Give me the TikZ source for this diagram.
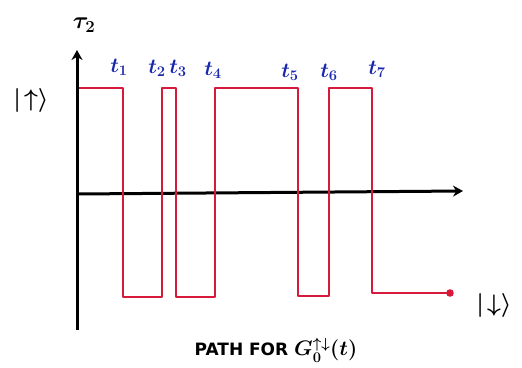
\RequirePackage{fix-cm}
\documentclass[tikz,border=0pt]{standalone}
\usepackage{fontspec}
\setmainfont{DejaVu Sans}
\usetikzlibrary{arrows.meta}
\definecolor{pathred}{RGB}{215,25,60}
\definecolor{lblblue}{RGB}{25,40,175}
\tikzset{
  axis/.style={line width=3pt, black, -{Stealth[length=10pt,width=11pt]}},
  redpath/.style={line width=1.7pt, pathred, line join=round},
  tlabel/.style={text=lblblue, font=\fontsize{21}{21}\selectfont\boldmath, inner sep=0pt},
  blacklabel/.style={text=black, font=\fontsize{24}{24}\selectfont\boldmath, inner sep=0pt},
}
\begin{document}
\begin{tikzpicture}[x=1pt,y=-1pt]
\useasboundingbox (0,0) rectangle (522,367);
% axes
\coordinate (ybot) at (77,330);
\coordinate (ytop) at (77,50);
\coordinate (xorig) at (77,194);
\coordinate (xend) at (463,191);
\draw[axis] (ybot) -- (ytop);
\draw[axis] (xorig) -- (xend);
% red path
\coordinate (p0) at (79,88);
\coordinate (a1) at (123,88); \coordinate (b1) at (123,297);
\coordinate (a2) at (162,297); \coordinate (b2) at (162,88);
\coordinate (a3) at (176,88); \coordinate (b3) at (176,297);
\coordinate (a4) at (215,297); \coordinate (b4) at (215,88);
\coordinate (a5) at (298,88); \coordinate (b5) at (298,296);
\coordinate (a6) at (329,296); \coordinate (b6) at (329,88);
\coordinate (a7) at (372,88); \coordinate (b7) at (372,293);
\coordinate (pend) at (450,293);
\draw[redpath] (p0) -- (a1) -- (b1) -- (a2) -- (b2) -- (a3) -- (b3) -- (a4) -- (b4) -- (a5) -- (b5) -- (a6) -- (b6) -- (a7) -- (b7) -- (pend);
\fill[pathred] (pend) circle (3.8pt);
% labels
\node[blacklabel] (tau) at (84,25) {$\tau_2$};
\node[blacklabel] (up) at (31,100) {$|\!\uparrow\rangle$};
\node[blacklabel] (down) at (494,305) {$|\!\downarrow\rangle$};
\node[tlabel] (t1) at (119,67) {$t_1$};
\node[tlabel] (t2) at (157,68) {$t_2$};
\node[tlabel] (t3) at (178,68) {$t_3$};
\node[tlabel] (t4) at (213,70) {$t_4$};
\node[tlabel] (t5) at (290,72) {$t_5$};
\node[tlabel] (t6) at (329,72) {$t_6$};
\node[tlabel] (t7) at (377,69) {$t_7$};
\node[inner sep=0pt, font=\fontsize{17}{17}\selectfont\bfseries\boldmath] (cap) at (276,350) {PATH FOR \fontsize{21}{21}\selectfont$G_0^{\uparrow\downarrow}(t)$};
\end{tikzpicture}
\end{document}
